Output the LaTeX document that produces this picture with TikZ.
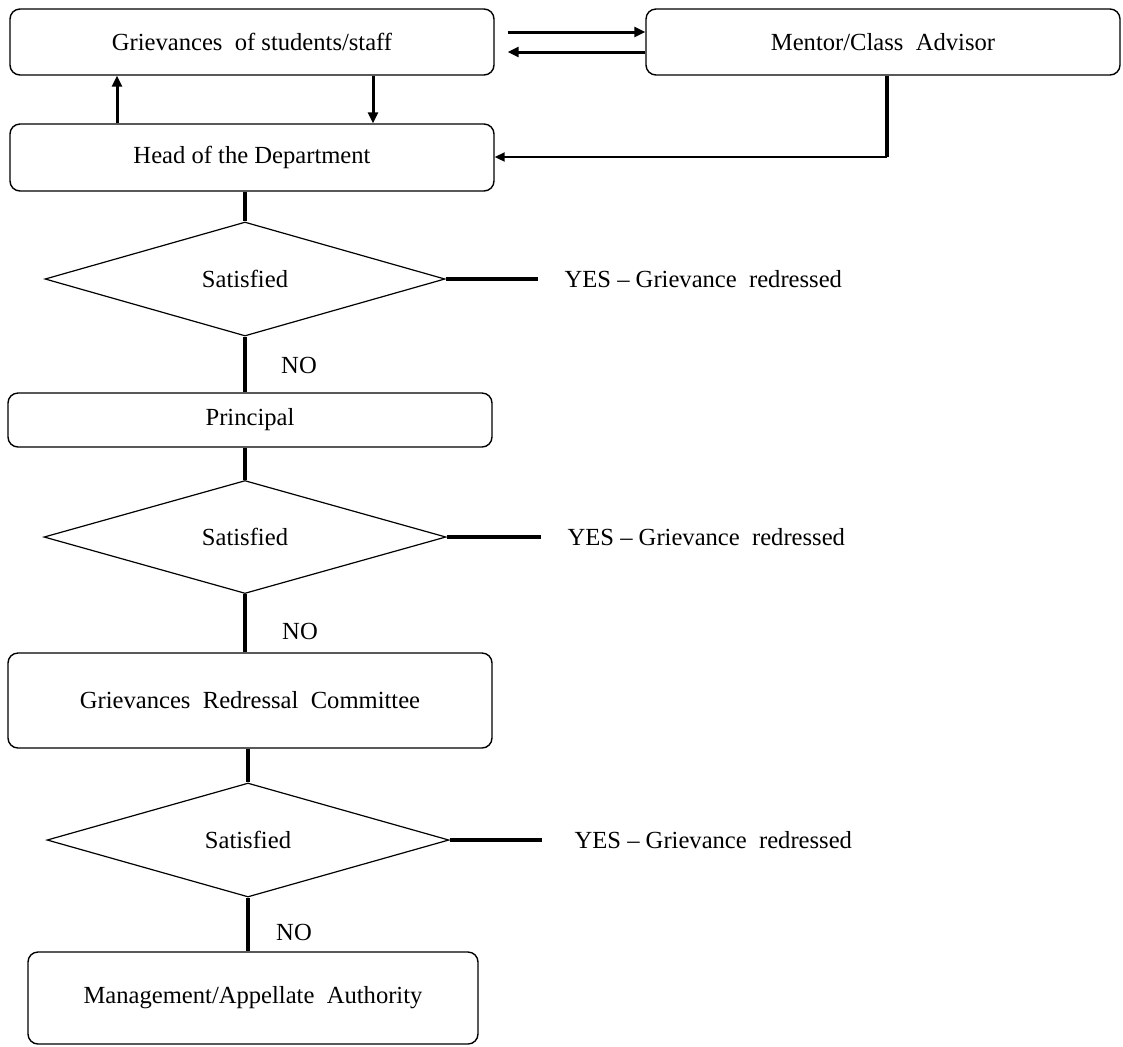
\documentclass[tikz,border=0pt]{standalone}
\usepackage{fontspec}
\setmainfont{Liberation Serif}
\usetikzlibrary{arrows.meta, positioning, shapes.geometric}

\tikzset{
  txt/.style={font=\fontsize{12.3}{14}\selectfont},
  stage/.style={draw, rounded corners=5pt, line width=0.7pt, inner sep=0pt,
                minimum width=242pt, txt},
  gate/.style={draw, diamond, line width=0.6pt, inner sep=0pt,
               minimum width=200pt, minimum height=57pt, txt},
  link/.style={line width=2pt},
  flow/.style={line width=1.5pt, -{Triangle[length=5.5pt,width=5pt]}},
  back/.style={line width=1pt, -{Triangle[length=5pt,width=4.5pt]}},
  lbl/.style={txt, anchor=west}
}

\begin{document}
\begin{tikzpicture}[x=0.5pt, y=-0.5pt]
  \useasboundingbox (0,0) rectangle (1123,1046);

  % top row
  \node[stage, minimum height=33pt] (griev) at (252,42) {Grievances\ \ of students/staff};
  \node[stage, minimum width=237pt, minimum height=33pt] (mentor) at (883,42) {Mentor/Class\ \ Advisor};
  \node[stage, minimum height=33.5pt] (hod) at (252,157.5) {Head of the Department};

  \draw[flow] ([xshift=6.5pt, yshift=5pt]griev.east) -- ([yshift=5pt]mentor.west);
  \draw[flow] ([yshift=-5pt]mentor.west) -- ([xshift=6.5pt, yshift=-5pt]griev.east);
  \draw[flow] (hod.north -| 117,0) -- (griev.south -| 117,0);
  \draw[flow] (griev.south -| 373,0) -- (hod.north -| 373,0);

  \coordinate (turn) at (887,157);
  \draw[link] (mentor.south -| turn) -- (turn);
  \draw[back] (turn) -- (hod.east |- turn);

  % first check
  \node[gate] (chk1) at (245,279) {Satisfied};
  \draw[link] (chk1.north |- hod.south) -- (chk1.north);
  \draw[link] (chk1.east) -- ++(92,0) coordinate (yes1);
  \node[lbl, right=10pt of yes1] (red1) {YES -- Grievance\ \ redressed};
  \node[txt] (no1) at (299,365) {NO};

  \node[stage, minimum height=27pt] (prin) at (250,420) {Principal};
  \draw[link] (chk1.south) -- (chk1.south |- prin.north);

  % second check
  \node[gate, minimum width=201pt, minimum height=56.5pt] (chk2) at (245,537) {Satisfied};
  \draw[link] (chk2.north |- prin.south) -- (chk2.north);
  \draw[link] (chk2.east) -- ++(94,0) coordinate (yes2);
  \node[lbl, right=10pt of yes2] (red2) {YES -- Grievance\ \ redressed};
  \node[txt] (no2) at (300,631) {NO};

  \node[stage, minimum height=47.5pt] (grc) at (250,700.5) {Grievances\ \ Redressal\ \ Committee};
  \draw[link] (chk2.south) -- (chk2.south |- grc.north);

  % third check
  \node[gate, minimum width=201pt] (chk3) at (248,840) {Satisfied};
  \draw[link] (chk3.north |- grc.south) -- (chk3.north);
  \draw[link] (chk3.east) -- ++(92,0) coordinate (yes3);
  \node[lbl, right=13pt of yes3] (red3) {YES -- Grievance\ \ redressed};
  \node[txt] (no3) at (294,932) {NO};

  \node[stage, minimum width=225pt, minimum height=46pt] (mgmt) at (253,998) {Management/Appellate\ \ Authority};
  \draw[link] (chk3.south) -- (chk3.south |- mgmt.north);
\end{tikzpicture}
\end{document}
